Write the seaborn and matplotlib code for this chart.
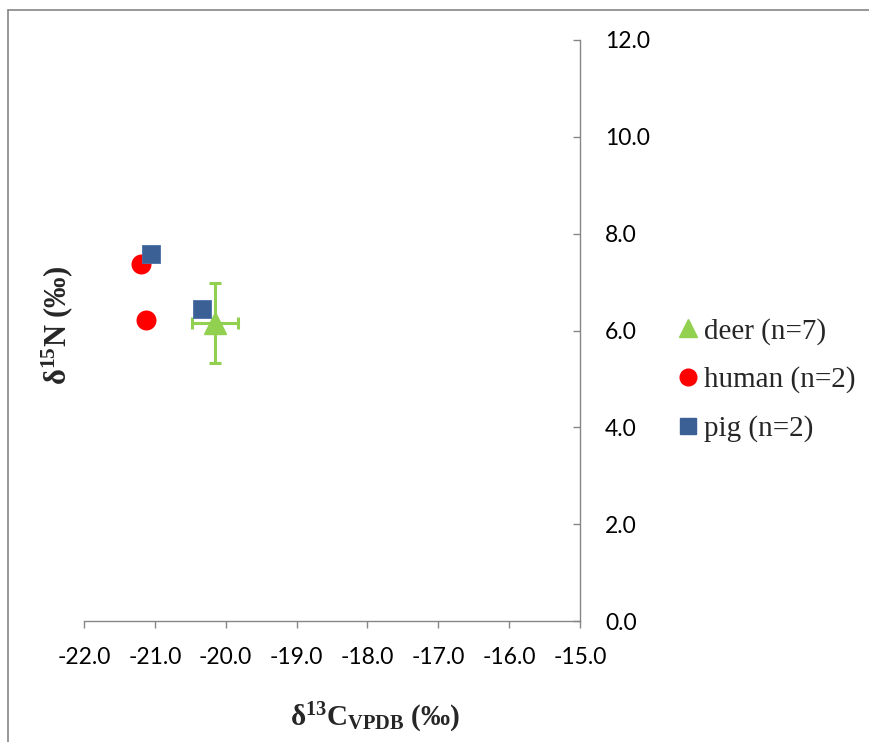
import numpy as np
import pandas as pd
import seaborn as sns
import matplotlib.pyplot as plt
from matplotlib.lines import Line2D

# stable isotope values
deer_d13c = [-20.15]
deer_d15n = [6.15]
deer_sd_c = [0.32]
deer_sd_n = [0.83]
human_d13c = [-21.2, -21.12]
human_d15n = [7.37, 6.22]
pig_d13c = [-21.05, -20.33]
pig_d15n = [7.58, 6.45]

labels = ['deer (n=7)', 'human (n=2)', 'pig (n=2)']
colors = ['#92D050', '#FF0000', '#3A6096']
x_ticks = [-22.0, -21.0, -20.0, -19.0, -18.0, -17.0, -16.0, -15.0]
y_ticks = [0.0, 2.0, 4.0, 6.0, 8.0, 10.0, 12.0]

sns.set_style('white')
plt.rcParams['font.family'] = ['Lato', 'DejaVu Sans']
plt.rcParams['mathtext.fontset'] = 'custom'
plt.rcParams['mathtext.rm'] = 'Liberation Serif'
plt.rcParams['mathtext.bf'] = 'Liberation Serif:bold'
plt.rcParams['mathtext.it'] = 'Liberation Serif:italic'

fig = plt.figure(figsize=(8.7, 7.42), dpi=100)
ax = fig.add_axes([84/870, 1-621/742, (580-84)/870, (621-40)/742])

human = pd.DataFrame({'d13c': human_d13c, 'd15n': human_d15n})
pig = pd.DataFrame({'d13c': pig_d13c, 'd15n': pig_d15n})

ax.errorbar(deer_d13c, deer_d15n, xerr=deer_sd_c, yerr=deer_sd_n, fmt='^',
            color=colors[0], ms=16.5, elinewidth=2.2, capsize=4.5, capthick=2.2,
            mec=colors[0], zorder=3)
sns.scatterplot(data=human, x='d13c', y='d15n', marker='o', color=colors[1],
                s=14.4**2, edgecolor=colors[1], linewidth=0, ax=ax, zorder=4)
sns.scatterplot(data=pig, x='d13c', y='d15n', marker='s', color=colors[2],
                s=12.7**2, edgecolor='#4A70A8', linewidth=0.6, ax=ax, zorder=5)

ax.set_xlim(-22, -15)
ax.set_ylim(0, 12)
ax.set_xticks(x_ticks)
ax.set_yticks(y_ticks)
ax.set_xticklabels([f'{v:.1f}' for v in x_ticks])
ax.set_yticklabels([f'{v:.1f}' for v in y_ticks])
ax.set_xlabel('')
ax.set_ylabel('')

for s in ['left', 'top']:
    ax.spines[s].set_visible(False)
for s in ['right', 'bottom']:
    ax.spines[s].set_color('#868686')
    ax.spines[s].set_linewidth(1.0)
ax.yaxis.tick_right()
ax.tick_params(axis='y', direction='in', length=5, width=1, color='#868686',
               labelsize=16.5, pad=18, labelcolor='black')
ax.tick_params(axis='x', direction='out', length=5, width=1, color='#868686',
               labelsize=16.5, pad=14, labelcolor='black', bottom=True)

fig.text(375/870, 1-718/742, r'$\mathbf{δ^{13}C_{VPDB}\ (‰)}$', fontsize=21,
         ha='center', va='center')
fig.text(57/870, 1-325/742, r'$\mathbf{δ^{15}N\ (‰)}$', fontsize=22,
         ha='center', va='center', rotation=90)

handles = [
    Line2D([], [], marker='^', color=colors[0], ls='', ms=13),
    Line2D([], [], marker='o', color=colors[1], ls='', ms=12),
    Line2D([], [], marker='s', color=colors[2], ls='', ms=11.5),
]
fig.legend(handles, labels, loc='center left', bbox_to_anchor=(679/870, 1-380/742),
           frameon=False, prop={'family': 'Liberation Serif', 'size': 21},
           handlelength=0.65, handletextpad=0.2, labelspacing=0.75, borderpad=0,
           borderaxespad=0)

# chart area border (only left and top edges fall inside the image)
fx, fy = 8/870, 1 - 10/742
fig.add_artist(Line2D([fx, fx], [0, fy], transform=fig.transFigure, color='#868686', lw=1.2))
fig.add_artist(Line2D([fx, 1], [fy, fy], transform=fig.transFigure, color='#868686', lw=1.2))

fig.savefig('out.png', dpi=100)
